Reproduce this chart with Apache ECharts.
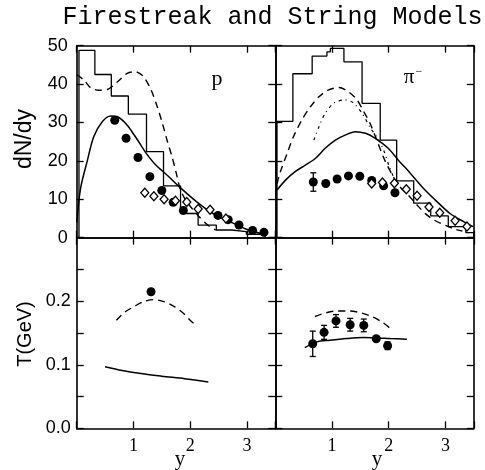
<!DOCTYPE html>
<html><head><meta charset="utf-8">
<script src="https://cdn.jsdelivr.net/npm/echarts@6/dist/echarts.min.js"></script>
<style>html,body{margin:0;padding:0;background:#fff}#c{width:485px;height:470px}</style>
</head><body><div id="c"></div>
<script>
// ---------- proton dN/dy (top-left) ----------
const pHistEdges  = [0.04, 0.32, 0.61, 0.91, 1.23, 1.53, 1.83, 2.14, 2.46, 2.73, 2.99, 3.32];
const pHistValues = [48.8, 42.5, 36.9, 32.2, 22.4, 13.5, 6.3, 3.3, 2.0, 1.6, 0.9];
const pDashX = [0.0, 0.13, 0.25, 0.39, 0.54, 0.72, 0.89, 1.04, 1.18, 1.31, 1.42, 1.51, 1.6, 1.68, 1.76, 1.82, 1.9, 2.0, 2.15, 2.3, 2.45];
const pDashY = [42.5, 41, 39, 38.4, 38.6, 40.6, 42.8, 43.2, 41.9, 38.5, 34.1, 29.8, 25, 21.1, 16.5, 12.9, 10.3, 8.2, 5.6, 3.4, 2.0];
const pSolidX = [0.0, 0.07, 0.19, 0.3, 0.45, 0.6, 0.72, 0.89, 1.07, 1.21, 1.39, 1.6, 1.82, 2.11, 2.4, 2.7, 2.99, 3.25];
const pSolidY = [4, 13, 20.2, 26.3, 30.2, 31.7, 31.5, 29.3, 25.5, 22.3, 19, 16.2, 13.1, 9.4, 6.3, 4.2, 2.2, 1.1];
const pDotX = [0.67, 0.87, 1.08, 1.29, 1.5, 1.7, 1.88, 2.49, 2.67, 2.86, 3.1, 3.3];
const pDotY = [30.6, 25.9, 20.9, 15.9, 12.3, 9.2, 7.1, 5.8, 4.7, 3.3, 1.9, 1.4];
const pDiaX = [1.2, 1.36, 1.54, 1.74, 1.94, 2.14, 2.35, 2.63];
const pDiaY = [11.7, 10.8, 10.0, 9.6, 9.3, 7.5, 7.3, 5.0];

// ---------- pi- dN/dy (top-right) ----------
const piHistEdges  = [0.03, 0.31, 0.65, 0.91, 0.97, 1.21, 1.53, 1.85, 2.14, 2.44, 2.74, 3.05, 3.36, 3.5];
const piHistValues = [30.3, 42.7, 47.3, 48.4, 49.3, 45.8, 35.0, 25.4, 14.8, 9.0, 5.7, 2.9, 1.3];
const piDashX = [0.03, 0.09, 0.21, 0.32, 0.47, 0.62, 0.77, 0.94, 1.12, 1.29, 1.44, 1.56, 1.67, 1.8, 1.93, 2.08, 2.2, 2.35, 2.5, 2.65, 2.8, 3.0, 3.15, 3.3];
const piDashY = [14, 17.2, 22, 26.3, 30.7, 34.1, 36.7, 38.5, 39.1, 38, 35.9, 32.8, 29.8, 25, 20.2, 15.9, 13.2, 11, 8.5, 6.2, 4.6, 3.2, 2.3, 1.7];
const piDashDotX = [0.68, 0.77, 0.88, 1.03, 1.21, 1.37, 1.53, 1.68, 1.8, 1.91, 2.0, 2.08, 2.12];
const piDashDotY = [25.4, 28.9, 32.4, 35, 35.9, 35.2, 32.4, 28.5, 26, 22.8, 18.9, 15.9, 14];
const piSolidX = [0.03, 0.18, 0.35, 0.53, 0.71, 0.88, 1.06, 1.23, 1.41, 1.59, 1.75, 1.99, 2.17, 2.38, 2.61, 2.85, 3.08, 3.32, 3.49];
const piSolidY = [12.4, 15.0, 17.2, 18.9, 20.7, 23.3, 25.4, 26.7, 27.6, 27.2, 26.0, 23.3, 20.2, 16.8, 12.9, 9.4, 6.3, 4.2, 2.9];
const piDotX = [0.67, 0.89, 1.09, 1.29, 1.49, 1.7, 1.91, 2.11];
const piDotY = [14.5, 14.1, 15.3, 16.1, 16.0, 14.9, 13.5, 11.7];
const piDotErr = [2.4, 0, 0, 0, 0, 0, 0, 0];
const piDiaX = [1.7, 1.89, 2.1, 2.31, 2.5, 2.71, 2.9, 3.17, 3.38];
const piDiaY = [14.1, 14.4, 14.2, 12.6, 10.9, 8.0, 6.5, 4.4, 2.9];

// ---------- proton T (bottom-left) ----------
const pTDashX = [0.7, 0.85, 1.0, 1.17, 1.35, 1.55, 1.73, 1.88, 1.99, 2.1];
const pTDashY = [0.170, 0.183, 0.191, 0.199, 0.2025, 0.199, 0.191, 0.181, 0.171, 0.162];
const pTSolidX = [0.5, 0.8, 1.1, 1.5, 1.9, 2.32];
const pTSolidY = [0.097, 0.091, 0.0865, 0.082, 0.078, 0.073];
const pTDotX = [1.31];
const pTDotY = [0.215];

// ---------- pi- T (bottom-right) ----------
const piTDashX = [0.7, 0.88, 1.08, 1.32, 1.52, 1.7, 1.88, 2.01];
const piTDashY = [0.176, 0.1815, 0.1846, 0.1846, 0.1815, 0.176, 0.1674, 0.1585];
const piTSolidX = [0.52, 0.73, 0.96, 1.26, 1.55, 1.79, 2.02, 2.32];
const piTSolidY = [0.127, 0.136, 0.1386, 0.1413, 0.1428, 0.1423, 0.1413, 0.1402];
const piTDotX = [0.66, 0.86, 1.07, 1.32, 1.56, 1.78, 1.98];
const piTDotY = [0.133, 0.151, 0.169, 0.163, 0.162, 0.141, 0.130];
const piTDotErr = [0.02, 0.011, 0.01, 0.01, 0.01, 0, 0.006];

// ---------- axis ticks ----------
const xTickLabels = [1, 2, 3];
const dnTickLabels = [0, 10, 20, 30, 40, 50];
const tTickLabels = ['0.0', '0.1', '0.2'];

// ---------- helpers ----------
const zip = (xs, ys) => xs.map((x, i) => [x, ys[i]]);
const zip3 = (xs, ys, es) => xs.map((x, i) => [x, ys[i], es[i]]);
function histData(edges, vals) {
  const d = [[edges[0], 0]];
  vals.forEach((v, i) => d.push([edges[i], v]));
  d.push([edges[edges.length - 1], vals[vals.length - 1]]);
  d.push([edges[edges.length - 1], 0]);
  return d;
}
const BLACK = '#000';
const grids = [
  {left: 76.7, top: 45.7, width: 198.6, height: 192},
  {left: 275.3, top: 45.7, width: 198.5, height: 192},
  {left: 76.7, top: 237.7, width: 198.6, height: 190.6},
  {left: 275.3, top: 237.7, width: 198.5, height: 190.6}
];
const axisLine = {show: true, onZero: false, lineStyle: {color: BLACK, width: 1.6}};
const tick = {show: true, inside: true, length: 7, lineStyle: {color: BLACK, width: 1.3}};

const xAxes = [], yAxes = [];
grids.forEach((g, gi) => {
  const bottomRow = gi >= 2;
  ['bottom', 'top'].forEach(pos => {
    xAxes.push({
      type: 'value', gridIndex: gi, position: pos, min: 0, max: 3.5, interval: 1,
      axisLine, axisTick: tick, splitLine: {show: false},
      axisLabel: {
        show: bottomRow && pos === 'bottom', margin: 9,
        fontFamily: 'Liberation Serif', fontSize: 18, color: BLACK,
        formatter: v => xTickLabels.includes(v) ? String(v) : ''
      }
    });
  });
  ['left', 'right'].forEach(pos => {
    const showLab = (gi === 0 || gi === 2) && pos === 'left';
    yAxes.push(bottomRow ? {
      type: 'value', gridIndex: gi, position: pos, min: 0, max: 0.3, interval: 0.05,
      axisLine, axisTick: tick, splitLine: {show: false},
      axisLabel: {
        show: showLab, margin: 6, fontFamily: 'Liberation Sans', fontSize: 18, color: BLACK,
        formatter: v => { const s = v.toFixed(1); return (Math.abs(v - parseFloat(s)) < 1e-6 && tTickLabels.includes(s)) ? s : ''; }
      }
    } : {
      type: 'value', gridIndex: gi, position: pos, min: 0, max: 50, interval: 10,
      axisLine, axisTick: tick, splitLine: {show: false},
      axisLabel: {
        show: showLab, margin: 9, fontFamily: 'Liberation Sans', fontSize: 18, color: BLACK,
        formatter: v => dnTickLabels.includes(v) ? String(v) : ''
      }
    });
  });
});

function lineS(ax, data, dash, width) {
  return {type: 'line', xAxisIndex: ax * 2, yAxisIndex: ax * 2, data, showSymbol: false, symbol: 'none',
    smooth: 0.3, lineStyle: {color: BLACK, width: width || 1.4, type: dash || 'solid'}, z: 3, silent: true};
}
function histS(ax, data) {
  return {type: 'line', xAxisIndex: ax * 2, yAxisIndex: ax * 2, data, step: 'end', showSymbol: false, symbol: 'none',
    lineStyle: {color: BLACK, width: 1.3}, z: 2, silent: true};
}
function dotS(ax, data) {
  return {type: 'scatter', xAxisIndex: ax * 2, yAxisIndex: ax * 2, data, symbol: 'circle', symbolSize: 9,
    itemStyle: {color: BLACK, opacity: 1}, z: 5, silent: true};
}
function diaS(ax, data) {
  return {type: 'scatter', xAxisIndex: ax * 2, yAxisIndex: ax * 2, data, symbol: 'diamond', symbolSize: [8, 9],
    itemStyle: {color: '#fff', borderColor: BLACK, borderWidth: 1.3, opacity: 1}, z: 6, silent: true};
}
function errS(ax, data) {
  return {type: 'custom', xAxisIndex: ax * 2, yAxisIndex: ax * 2, data, z: 4, silent: true,
    renderItem: (params, api) => {
      const x = api.value(0), y = api.value(1), e = api.value(2);
      if (!e) return null;
      const t = api.coord([x, y + e]), b = api.coord([x, y - e]);
      const st = {stroke: BLACK, lineWidth: 1.3};
      return {type: 'group', children: [
        {type: 'line', shape: {x1: t[0], y1: t[1], x2: b[0], y2: b[1]}, style: st},
        {type: 'line', shape: {x1: t[0] - 3, y1: t[1], x2: t[0] + 3, y2: t[1]}, style: st},
        {type: 'line', shape: {x1: b[0] - 3, y1: b[1], x2: b[0] + 3, y2: b[1]}, style: st}
      ]};
    }};
}

const DASH = [7, 5];
const DASHDOT = [3, 4, 1, 4];
const series = [
  histS(0, histData(pHistEdges, pHistValues)),
  lineS(0, zip(pDashX, pDashY), DASH),
  lineS(0, zip(pSolidX, pSolidY), 'solid', 1.5),
  dotS(0, zip(pDotX, pDotY)),
  diaS(0, zip(pDiaX, pDiaY)),

  histS(1, histData(piHistEdges, piHistValues)),
  lineS(1, zip(piDashX, piDashY), DASH),
  lineS(1, zip(piDashDotX, piDashDotY), DASHDOT, 1.2),
  lineS(1, zip(piSolidX, piSolidY), 'solid', 1.5),
  errS(1, zip3(piDotX, piDotY, piDotErr)),
  dotS(1, zip(piDotX, piDotY)),
  diaS(1, zip(piDiaX, piDiaY)),

  lineS(2, zip(pTDashX, pTDashY), DASH),
  lineS(2, zip(pTSolidX, pTSolidY), 'solid', 1.5),
  dotS(2, zip(pTDotX, pTDotY)),

  lineS(3, zip(piTDashX, piTDashY), DASH),
  lineS(3, zip(piTSolidX, piTSolidY), 'solid', 1.5),
  errS(3, zip3(piTDotX, piTDotY, piTDotErr)),
  dotS(3, zip(piTDotX, piTDotY))
];

const chart = echarts.init(document.getElementById('c'), null, {renderer: 'canvas'});
chart.setOption({
  backgroundColor: '#fff',
  animation: false,
  grid: grids,
  xAxis: xAxes,
  yAxis: yAxes,
  series,
  graphic: [
    {type: 'text', x: 272.5, y: 17, style: {text: 'Firestreak and String Models', font: '25px "Liberation Mono"', fill: BLACK, textAlign: 'center', textVerticalAlign: 'middle'}},
    {type: 'text', x: 25, y: 139, rotation: Math.PI / 2, style: {text: 'dN/dy', font: '23px "Liberation Sans"', fill: BLACK, textAlign: 'center', textVerticalAlign: 'middle'}},
    {type: 'text', x: 25, y: 334, rotation: Math.PI / 2, style: {text: 'T(GeV)', font: '20px "Liberation Sans"', fill: BLACK, textAlign: 'center', textVerticalAlign: 'middle'}},
    {type: 'text', x: 180, y: 459, style: {text: 'y', font: '21px "Liberation Serif"', fill: BLACK, textAlign: 'center', textVerticalAlign: 'middle'}},
    {type: 'text', x: 377, y: 459, style: {text: 'y', font: '21px "Liberation Serif"', fill: BLACK, textAlign: 'center', textVerticalAlign: 'middle'}},
    {type: 'text', x: 217, y: 79, style: {text: 'p', font: '22px "Liberation Serif"', fill: BLACK, textAlign: 'center', textVerticalAlign: 'middle'}},
    {type: 'text', x: 413, y: 77, style: {text: '{a|π}{b|−}', rich: {a: {font: '21px "Liberation Serif"', fill: BLACK}, b: {font: '12px "Liberation Serif"', fill: BLACK, verticalAlign: 'top', padding: [0, 0, 10, 1]}}, textAlign: 'center', textVerticalAlign: 'middle'}}
  ]
});
</script></body></html>
